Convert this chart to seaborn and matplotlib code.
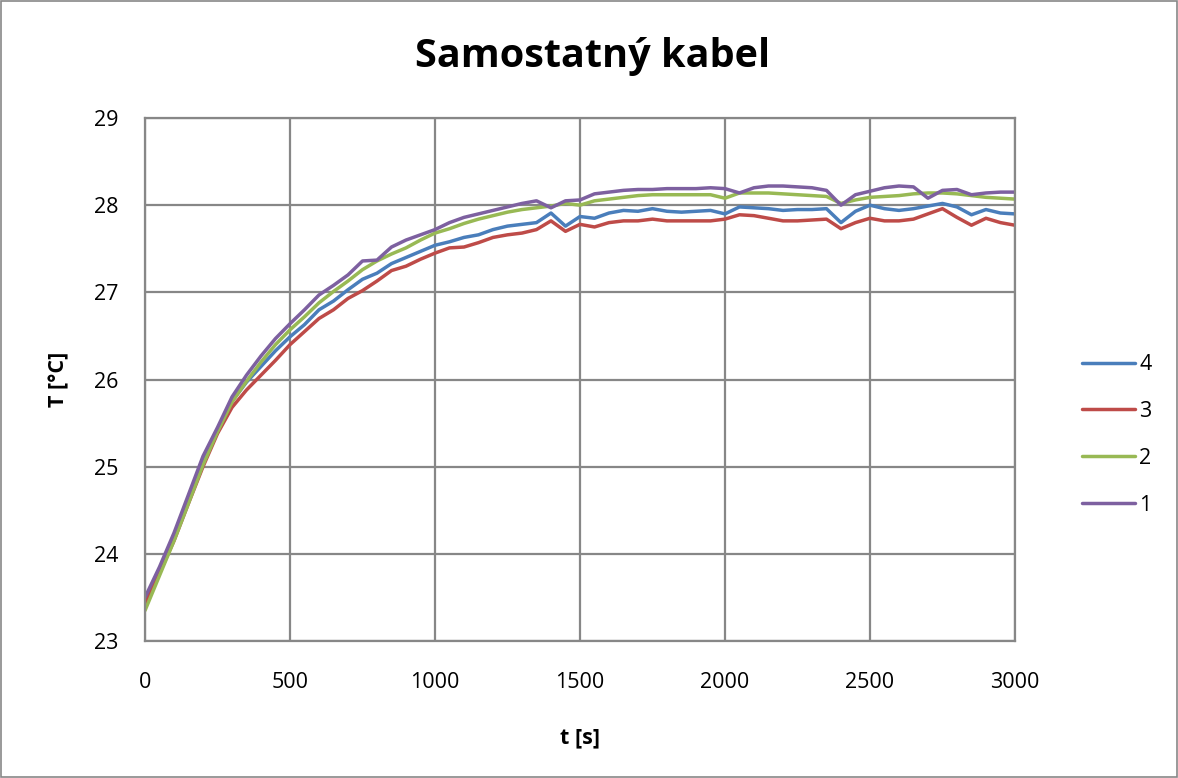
import numpy as np
import pandas as pd
import matplotlib
matplotlib.use("Agg")
import matplotlib.pyplot as plt
import seaborn as sns
from matplotlib.patches import Rectangle

# ---- data -------------------------------------------------------------
time_s = list(range(0, 3001, 50))

s1 = [23.50, 23.85, 24.24, 24.68, 25.12, 25.45, 25.80, 26.05, 26.27, 26.47,
      26.64, 26.80, 26.97, 27.08, 27.20, 27.36, 27.37, 27.52, 27.60, 27.66,
      27.72, 27.80, 27.86, 27.90, 27.94, 27.98, 28.02, 28.05, 27.97, 28.05,
      28.06, 28.13, 28.15, 28.17, 28.18, 28.18, 28.19, 28.19, 28.19, 28.20,
      28.19, 28.14, 28.20, 28.22, 28.22, 28.21, 28.20, 28.17, 28.00, 28.12,
      28.16, 28.20, 28.22, 28.21, 28.08, 28.17, 28.18, 28.12, 28.14, 28.15,
      28.15]
s2 = [23.35, 23.75, 24.15, 24.58, 25.02, 25.40, 25.74, 25.98, 26.20, 26.40,
      26.57, 26.72, 26.88, 27.01, 27.13, 27.26, 27.36, 27.44, 27.51, 27.60,
      27.68, 27.73, 27.79, 27.84, 27.88, 27.92, 27.95, 27.97, 27.99, 28.02,
      28.00, 28.05, 28.07, 28.09, 28.11, 28.12, 28.12, 28.12, 28.12, 28.12,
      28.08, 28.14, 28.14, 28.14, 28.13, 28.12, 28.11, 28.10, 28.02, 28.06,
      28.09, 28.10, 28.11, 28.13, 28.14, 28.14, 28.13, 28.11, 28.09, 28.08,
      28.07]
s3 = [23.42, 23.78, 24.15, 24.58, 25.00, 25.38, 25.68, 25.88, 26.05, 26.22,
      26.40, 26.55, 26.70, 26.80, 26.93, 27.02, 27.13, 27.25, 27.30, 27.38,
      27.45, 27.51, 27.52, 27.57, 27.63, 27.66, 27.68, 27.72, 27.82, 27.70,
      27.78, 27.75, 27.80, 27.82, 27.82, 27.84, 27.82, 27.82, 27.82, 27.82,
      27.84, 27.89, 27.88, 27.85, 27.82, 27.82, 27.83, 27.84, 27.73, 27.80,
      27.85, 27.82, 27.82, 27.84, 27.90, 27.96, 27.86, 27.77, 27.85, 27.80,
      27.77]
s4 = [23.45, 23.82, 24.20, 24.62, 25.05, 25.42, 25.75, 25.97, 26.15, 26.33,
      26.49, 26.63, 26.80, 26.90, 27.03, 27.15, 27.22, 27.33, 27.40, 27.47,
      27.54, 27.58, 27.63, 27.66, 27.72, 27.76, 27.78, 27.80, 27.91, 27.76,
      27.87, 27.85, 27.91, 27.94, 27.93, 27.96, 27.93, 27.92, 27.93, 27.94,
      27.90, 27.98, 27.97, 27.96, 27.94, 27.95, 27.95, 27.96, 27.80, 27.93,
      28.00, 27.96, 27.94, 27.96, 27.99, 28.02, 27.98, 27.89, 27.95, 27.91,
      27.90]

series_names = ["4", "3", "2", "1"]
series_values = [s4, s3, s2, s1]
colors = ["#4A7EBB", "#BE4B48", "#98B954", "#7D60A0"]

title = "Samostatný kabel"
xlabel = "t [s]"
ylabel = "T [°C]"
xticks = [0, 500, 1000, 1500, 2000, 2500, 3000]
yticks = [23, 24, 25, 26, 27, 28, 29]

df = pd.concat(
    [pd.DataFrame({"t": time_s, "T": v, "series": n})
     for n, v in zip(series_names, series_values)],
    ignore_index=True)

# ---- plot -------------------------------------------------------------
sns.set_style("white")
plt.rcParams["font.family"] = ["Open Sans", "DejaVu Sans"]
plt.rcParams["text.color"] = "black"
plt.rcParams["lines.solid_joinstyle"] = "round"
plt.rcParams["lines.solid_capstyle"] = "round"

fig = plt.figure(figsize=(11.78, 7.78), dpi=100)
ax = fig.add_axes([0.1231, 0.1761, 0.7385, 0.6722])

sns.lineplot(data=df, x="t", y="T", hue="series", hue_order=series_names,
             palette=dict(zip(series_names, colors)), linewidth=2.5,
             ax=ax, legend=True)

ax.set_xlim(0, 3000)
ax.set_ylim(23, 29)
ax.set_xticks(xticks)
ax.set_yticks(yticks)
ax.tick_params(axis="both", labelsize=15.5, length=0, colors="black",
               labelcolor="black")
ax.tick_params(axis="x", pad=22)
ax.tick_params(axis="y", pad=19)
ax.grid(True, color="#878787", linewidth=1.6)
ax.set_axisbelow(True)
for sp in ax.spines.values():
    sp.set_color("#878787")
    sp.set_linewidth(1.6)

ax.set_xlabel("")
ax.set_ylabel("")
fig.text(0.4924, 1 - 743 / 778, xlabel, ha="center", va="baseline",
         fontsize=15.5, fontweight="bold", color="black")
fig.text(0.050, 0.513, ylabel, ha="center", va="center", rotation=90,
         fontsize=15.5, fontweight="bold", color="black")

fig.text(0.503, 1 - 67 / 778, title, ha="center", va="baseline",
         fontsize=28.5, fontweight="bold", color="black")

handles, labels = ax.get_legend_handles_labels()
leg = ax.legend(handles, labels, loc="center left",
                bbox_to_anchor=(0.9024, 0.441),
                bbox_transform=fig.transFigure, frameon=False, fontsize=15.5,
                handlelength=2.45, handletextpad=0.18, labelspacing=1.2)
for txt in leg.get_texts():
    txt.set_color("black")

fig.patches.append(Rectangle((0.001, 0.001), 0.998, 0.998,
                             transform=fig.transFigure, fill=False,
                             edgecolor="#878787", linewidth=1.2))

fig.savefig("out.png", dpi=100)
